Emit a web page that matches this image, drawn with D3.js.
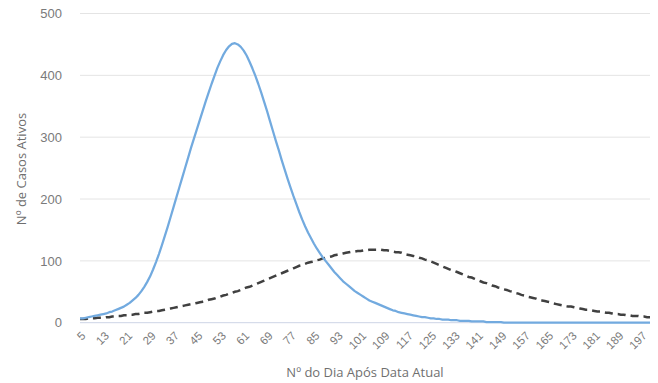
<!DOCTYPE html>
<html>
<head>
<meta charset="utf-8">
<script src="https://cdn.jsdelivr.net/npm/d3@7"></script>
<style>
  html, body { margin: 0; padding: 0; background: #fff; }
  svg { display: block; font-family: "Open Sans", "Noto Sans", sans-serif; }
</style>
</head>
<body>
<svg id="chart" width="658" height="383"></svg>
<script>
// Days after the current date: 5 .. 200
const firstDay = 5;
const lastDay = 200;

// Active cases, scenario without measures (solid blue)
const activeCasesFast = [
  7, 7, 8, 9, 10, 11, 12, 13, 14, 15,
  17, 18, 20, 22, 24, 26, 29, 32, 36, 40,
  45, 51, 58, 66, 75, 86, 98, 111, 125, 140,
  155, 171, 187, 203, 219, 235, 251, 267, 283, 298,
  313, 328, 343, 358, 372, 386, 399, 412, 423, 433,
  441, 447, 451, 452, 450, 446, 440, 432, 422, 411,
  399, 386, 372, 357, 342, 326, 310, 294, 279, 263,
  248, 233, 219, 205, 192, 179, 167, 156, 146, 137,
  128, 120, 113, 106, 100, 94, 88, 82, 77, 72,
  67, 63, 59, 55, 51, 48, 45, 42, 39, 36,
  34, 32, 30, 28, 26, 24, 22, 20, 19, 17,
  16, 15, 14, 13, 12, 11, 10, 9, 9, 8,
  7, 7, 6, 6, 5, 5, 5, 4, 4, 4,
  3, 3, 3, 3, 2, 2, 2, 2, 2, 1,
  1, 1, 1, 1, 1, 0, 0, 0, 0, 0,
  0, 0, 0, 0, 0, 0, 0, 0, 0, 0,
  0, 0, 0, 0, 0, 0, 0, 0, 0, 0,
  0, 0, 0, 0, 0, 0, 0, 0, 0, 0,
  0, 0, 0, 0, 0, 0, 0, 0, 0, 0,
  0, 0, 0, 0, 0, 0
];

// Active cases, flattened scenario (dashed black)
const activeCasesSlow = [
  6, 6, 6, 7, 7, 7, 8, 8, 8, 9,
  9, 10, 10, 11, 11, 12, 12, 13, 13, 14,
  14, 15, 16, 16, 17, 18, 19, 19, 20, 21,
  22, 23, 24, 25, 26, 27, 28, 29, 30, 31,
  32, 33, 34, 35, 37, 38, 39, 41, 42, 44,
  45, 47, 48, 50, 51, 53, 55, 57, 58, 60,
  62, 64, 66, 68, 70, 72, 74, 76, 78, 80,
  82, 84, 86, 88, 90, 92, 93, 95, 97, 98,
  99, 101, 102, 104, 105, 106, 107, 109, 110, 111,
  112, 113, 114, 115, 115, 116, 116, 117, 117, 118,
  118, 118, 118, 118, 117, 117, 116, 115, 114, 114,
  113, 111, 110, 109, 108, 107, 105, 104, 102, 101,
  99, 97, 95, 93, 91, 89, 87, 85, 84, 82,
  80, 78, 76, 74, 73, 71, 69, 67, 65, 64,
  62, 60, 59, 57, 56, 54, 53, 51, 50, 48,
  47, 45, 44, 42, 41, 40, 39, 37, 36, 35,
  34, 33, 31, 30, 29, 28, 27, 26, 26, 25,
  24, 23, 22, 21, 21, 20, 19, 18, 18, 17,
  16, 16, 15, 14, 14, 13, 13, 12, 12, 11,
  11, 11, 10, 10, 9, 9
];

const days = d3.range(firstDay, lastDay + 1);
const xTickDays = d3.range(5, 198, 8);
const yTicks = [0, 100, 200, 300, 400, 500];

const svg = d3.select("#chart");
const plotLeft = 80, plotRight = 650, plotTop = 13.5, plotBottom = 322.7;

const x = d3.scalePoint().domain(days).range([plotLeft, plotRight]);
const y = d3.scaleLinear().domain([0, 500]).range([plotBottom, plotTop]);

// Horizontal gridlines
svg.append("g")
  .selectAll("line")
  .data(yTicks.filter(d => d > 0))
  .join("line")
  .attr("x1", plotLeft).attr("x2", plotRight)
  .attr("y1", d => y(d)).attr("y2", d => y(d))
  .attr("stroke", "#e4e4e4").attr("stroke-width", 1);

// Y axis labels
const yAxis = d3.axisLeft(y).tickValues(yTicks).tickSize(0).tickPadding(18);
svg.append("g")
  .attr("transform", `translate(${plotLeft},0)`)
  .call(yAxis)
  .call(g => g.select(".domain").remove())
  .selectAll("text")
  .attr("fill", "#7a7a7a")
  .attr("font-size", 13);

// X axis with rotated day labels
const xAxis = d3.axisBottom(x).tickValues(xTickDays).tickSize(0);
svg.append("g")
  .attr("transform", `translate(0,${plotBottom})`)
  .call(xAxis)
  .call(g => g.select(".domain")
    .attr("stroke", "#cdd4e6")
    .attr("d", `M${plotLeft},0H${plotRight}`))
  .selectAll("text")
  .attr("fill", "#7a7a7a")
  .attr("font-size", 11.5)
  .attr("text-anchor", "end")
  .attr("dy", "0.35em")
  .attr("transform", "translate(3,11) rotate(-45)")
  .attr("y", 0).attr("x", 0);

// Series lines
const line = data => d3.line()
  .x((d, i) => x(days[i]))
  .y(d => y(d))(data);

svg.append("path")
  .attr("d", line(activeCasesSlow))
  .attr("fill", "none")
  .attr("stroke", "#404040")
  .attr("stroke-width", 2.5)
  .attr("stroke-dasharray", "8,5");

svg.append("path")
  .attr("d", line(activeCasesFast))
  .attr("fill", "none")
  .attr("stroke", "#72aadf")
  .attr("stroke-width", 2.25)
  .attr("stroke-linejoin", "round");

// Axis titles
svg.append("text")
  .attr("x", 365).attr("y", 377)
  .attr("text-anchor", "middle")
  .attr("fill", "#6f6f6f")
  .attr("font-size", 13)
  .text("Nº do Dia Após Data Atual");

svg.append("text")
  .attr("transform", "translate(26,169) rotate(-90)")
  .attr("text-anchor", "middle")
  .attr("fill", "#6f6f6f")
  .attr("font-size", 13)
  .text("Nº de Casos Ativos");
</script>
</body>
</html>
